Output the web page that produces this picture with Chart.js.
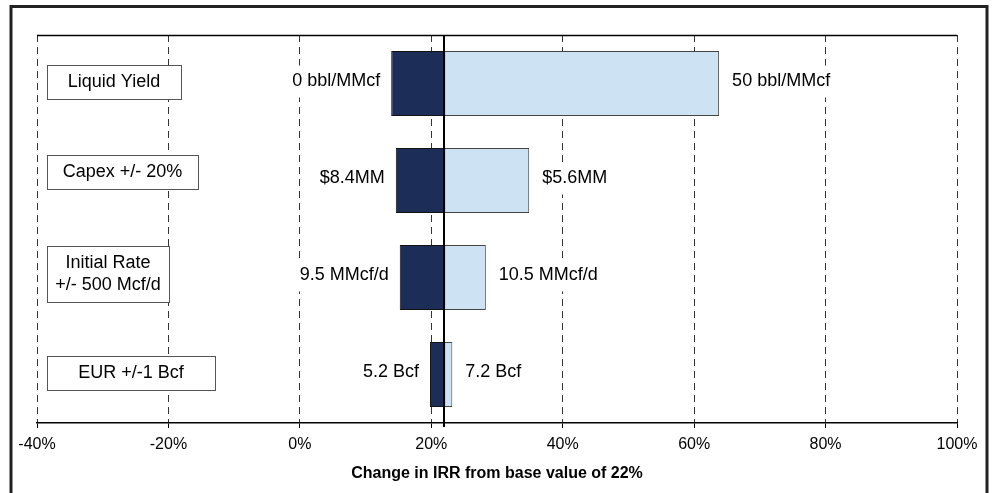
<!DOCTYPE html>
<html>
<head>
<meta charset="utf-8">
<script src="https://cdn.jsdelivr.net/npm/chart.js@4.4.1/dist/chart.umd.min.js"></script>
<style>
  html, body { margin: 0; padding: 0; background: #fff; }
  canvas { display: block; }
</style>
</head>
<body>
<canvas id="tornado" width="994" height="493"></canvas>
<script>
// sensitivity data (IRR %)
const categories = [['Liquid Yield'], ['Capex +/- 20%'], ['Initial Rate', '+/- 500 Mcf/d'], ['EUR +/-1 Bcf']];
const baseIrr = 22;
const lowIrr = [13.9, 14.6, 15.2, 19.8];
const highIrr = [63.8, 34.9, 28.3, 23.2];
const lowLabels = ['0 bbl/MMcf', '$8.4MM', '9.5 MMcf/d', '5.2 Bcf'];
const highLabels = ['50 bbl/MMcf', '$5.6MM', '10.5 MMcf/d', '7.2 Bcf'];
const xTicks = [-40, -20, 0, 20, 40, 60, 80, 100];
const axisTitle = 'Change in IRR from base value of 22%';

// label box styling (hand-sized like the original text boxes)
const boxWidths = [134, 151, 122, 168];
const boxNudge = [-2, -9, -4, -2];
const FONT = '"Liberation Sans", Arial, sans-serif';

// text with a white backing so the gridlines stop at the label
function labelWithBg(ctx, text, x, y, align) {
  const w = ctx.measureText(text).width;
  const left = align === 'right' ? x - w : x;
  ctx.fillStyle = '#fff';
  ctx.fillRect(left - 3, y - 16, w + 6, 32);
  ctx.fillStyle = '#000';
  ctx.textAlign = align;
  ctx.fillText(text, x, y);
}

const decorations = {
  id: 'decorations',
  beforeDraw(chart) {
    const ctx = chart.ctx;
    ctx.save();
    ctx.strokeStyle = '#222';
    ctx.lineWidth = 3;
    ctx.strokeRect(11, 6.5, 976, 600);
    ctx.restore();
  },
  afterDatasetsDraw(chart) {
    const {ctx, chartArea, scales: {x, y}} = chart;
    ctx.save();
    // top border of plot
    ctx.strokeStyle = '#000';
    ctx.lineWidth = 1.5;
    ctx.beginPath();
    ctx.moveTo(chartArea.left, chartArea.top + 0.5);
    ctx.lineTo(chartArea.right, chartArea.top + 0.5);
    ctx.stroke();
    // base case line
    const bx = Math.round(x.getPixelForValue(baseIrr));
    ctx.lineWidth = 2;
    ctx.beginPath();
    ctx.moveTo(bx, chartArea.top);
    ctx.lineTo(bx, chartArea.bottom + 4);
    ctx.stroke();

    ctx.font = '18px ' + FONT;
    ctx.textBaseline = 'middle';
    categories.forEach((lines, i) => {
      const cy = y.getPixelForValue(i);
      // value labels
      labelWithBg(ctx, lowLabels[i], x.getPixelForValue(lowIrr[i]) - 11, cy - 2, 'right');
      labelWithBg(ctx, highLabels[i], x.getPixelForValue(highIrr[i]) + 13, cy - 2, 'left');
      // category text box
      const h = lines.length * 22 + 12;
      const bx0 = chartArea.left + 10;
      const by0 = Math.round(cy + boxNudge[i] - h / 2) + 0.5;
      ctx.fillStyle = '#fff';
      ctx.fillRect(bx0, by0, boxWidths[i], h);
      ctx.strokeStyle = '#555';
      ctx.lineWidth = 1;
      ctx.strokeRect(bx0 + 0.5, by0, boxWidths[i], h);
      ctx.fillStyle = '#000';
      ctx.textAlign = 'center';
      lines.forEach((t, k) => {
        ctx.fillText(t, bx0 + boxWidths[i] / 2, by0 + h / 2 + (k - (lines.length - 1) / 2) * 22);
      });
    });
    ctx.restore();
  }
};

new Chart(document.getElementById('tornado'), {
  type: 'bar',
  data: {
    labels: categories,
    datasets: [
      {
        data: lowIrr.map(v => [v, baseIrr]),
        backgroundColor: '#1c2d57',
        borderColor: '#111',
        borderWidth: 1,
        borderSkipped: false,
        grouped: false,
        barPercentage: 0.67,
        categoryPercentage: 1
      },
      {
        data: highIrr.map(v => [baseIrr, v]),
        backgroundColor: '#cde3f3',
        borderColor: '#444',
        borderWidth: 1,
        borderSkipped: false,
        grouped: false,
        barPercentage: 0.67,
        categoryPercentage: 1
      }
    ]
  },
  options: {
    indexAxis: 'y',
    responsive: false,
    animation: false,
    layout: { padding: { left: 37, right: 37, top: 35, bottom: 0 } },
    plugins: { legend: { display: false }, tooltip: { enabled: false } },
    scales: {
      y: { display: false },
      x: {
        min: xTicks[0],
        max: xTicks[xTicks.length - 1],
        afterFit(scale) { scale.height = 70; },
        afterBuildTicks(scale) { scale.ticks = xTicks.map(v => ({ value: v })); },
        ticks: {
          callback: v => v + '%',
          color: '#000',
          padding: 7,
          maxRotation: 0,
          font: { family: FONT, size: 16 }
        },
        grid: {
          color: '#333',
          lineWidth: 1,
          drawTicks: true,
          tickLength: 5,
          tickColor: '#000',
          tickBorderDash: []
        },
        border: { display: true, color: '#000', width: 1.5, dash: [7, 5] },
        title: {
          display: true,
          text: axisTitle,
          color: '#000',
          padding: { top: 0, bottom: 10 },
          font: { family: FONT, size: 16, weight: 'bold' }
        }
      }
    }
  },
  plugins: [decorations]
});
</script>
</body>
</html>
